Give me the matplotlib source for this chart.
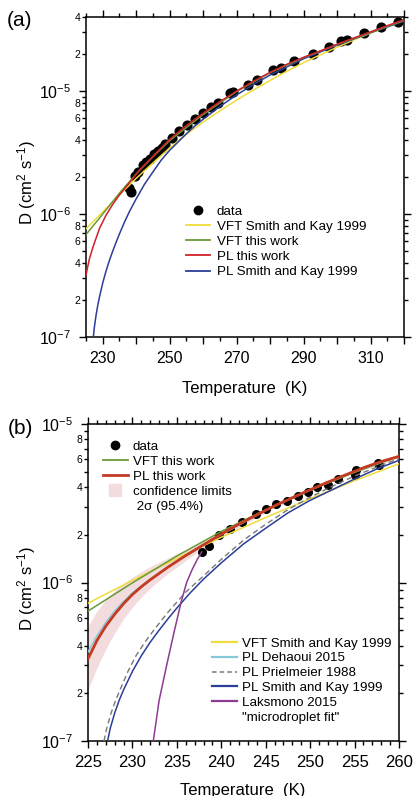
import matplotlib
matplotlib.use('Agg')
import matplotlib.pyplot as plt
from matplotlib.ticker import MultipleLocator, LogLocator, FuncFormatter
from matplotlib.lines import Line2D
import numpy as np

plt.rcParams['font.family'] = ['Liberation Sans', 'DejaVu Sans']
plt.rcParams['mathtext.fontset'] = 'custom'
plt.rcParams['mathtext.rm'] = 'Liberation Sans'
plt.rcParams['mathtext.it'] = 'Liberation Sans:italic'
plt.rcParams['mathtext.default'] = 'regular'

# ---------------- panel (a) data ----------------
T_data_a = [237.9, 238.3, 239.6, 240.5, 241.9, 243.0, 244.1, 245.3, 246.6, 247.6, 248.6, 250.6,
            252.8, 255.1, 257.6, 259.9, 262.2, 264.5, 268.0, 269.0, 273.5, 276.0, 281.0, 283.3,
            287.2, 292.7, 297.7, 301.1, 303.0, 308.1, 313.1, 318.1]
D_data_a = [1.64e-6, 1.5e-6, 2.04e-6, 2.2e-6, 2.49e-6, 2.65e-6, 2.82e-6, 3.05e-6, 3.26e-6, 3.45e-6,
            3.69e-6, 4.19e-6, 4.75e-6, 5.31e-6, 5.98e-6, 6.58e-6, 7.36e-6, 7.98e-6, 9.58e-6, 9.9e-6,
            1.12e-5, 1.24e-5, 1.47e-5, 1.54e-5, 1.75e-5, 2.0e-5, 2.3e-5, 2.56e-5, 2.62e-5, 2.96e-5,
            3.29e-5, 3.66e-5]

T_red_a = [225, 226, 227, 229, 231, 233, 235, 238, 241, 245, 250, 255, 260, 265, 270, 275, 280,
           285, 290, 295, 300, 305, 310, 315, 320]
D_red_a = [3.2e-7, 4.3e-7, 5.3e-7, 7.6e-7, 9.8e-7, 1.2e-6, 1.43e-6, 1.8e-6, 2.28e-6, 2.95e-6,
           4.05e-6, 5.25e-6, 6.6e-6, 8.2e-6, 1.0e-5, 1.2e-5, 1.42e-5, 1.65e-5, 1.88e-5, 2.12e-5,
           2.4e-5, 2.7e-5, 3.03e-5, 3.4e-5, 3.8e-5]

T_green_a = [225, 230, 235, 240, 245, 250, 260, 270, 280, 290, 300, 310, 320]
D_green_a = [6.8e-7, 1.0e-6, 1.48e-6, 2.12e-6, 2.92e-6, 3.95e-6, 6.45e-6, 9.9e-6, 1.41e-5,
             1.87e-5, 2.39e-5, 3.0e-5, 3.75e-5]

T_yellow_a = [225, 230, 235, 240, 245, 250, 255, 260, 265, 270, 275, 280, 285, 290, 295, 300,
              305, 310, 315, 320]
D_yellow_a = [7.6e-7, 1.04e-6, 1.43e-6, 1.95e-6, 2.6e-6, 3.45e-6, 4.45e-6, 5.6e-6, 6.9e-6, 8.45e-6,
              1.02e-5, 1.22e-5, 1.45e-5, 1.7e-5, 1.97e-5, 2.27e-5, 2.6e-5, 2.96e-5, 3.35e-5, 3.75e-5]

T_blue = [227.2, 227.5, 228.0, 228.5, 229.0, 230.0, 231.0, 232.0, 233.0, 234.0, 235.0, 236.5,
          238.0, 240.0, 242.5, 245.0, 247.5, 250.0, 252.5, 255.0, 257.5, 260.0, 265, 270, 275,
          280, 290, 300, 310, 320]
D_blue = [1.0e-7, 1.2e-7, 1.5e-7, 1.8e-7, 2.1e-7, 2.75e-7, 3.45e-7, 4.2e-7, 5.0e-7, 5.9e-7,
          6.9e-7, 8.6e-7, 1.05e-6, 1.33e-6, 1.75e-6, 2.2e-6, 2.75e-6, 3.3e-6, 3.85e-6, 4.5e-6,
          5.2e-6, 5.9e-6, 7.5e-6, 9.3e-6, 1.13e-5, 1.35e-5, 1.83e-5, 2.36e-5, 2.98e-5, 3.7e-5]

# ---------------- panel (b) data ----------------
T_data_b = [237.8, 238.6, 239.7, 241.0, 242.3, 243.9, 245.0, 246.2, 247.4, 248.6, 249.8, 250.8,
            252.0, 253.1, 255.2, 255.0, 257.6, 257.8]
D_data_b = [1.55e-6, 1.71e-6, 1.99e-6, 2.16e-6, 2.41e-6, 2.69e-6, 2.89e-6, 3.11e-6, 3.28e-6,
            3.5e-6, 3.73e-6, 3.99e-6, 4.15e-6, 4.53e-6, 5.11e-6, 4.75e-6, 5.71e-6, 5.5e-6]

T_red_b = [225, 226, 227, 228, 229, 230, 231, 232, 233, 234, 235, 236, 237, 238, 240, 242, 244,
           246, 248, 250, 252, 254, 256, 258, 260]
D_red_b = [3.3e-7, 4.3e-7, 5.3e-7, 6.3e-7, 7.35e-7, 8.4e-7, 9.4e-7, 1.04e-6, 1.14e-6, 1.25e-6,
           1.36e-6, 1.48e-6, 1.6e-6, 1.73e-6, 2.02e-6, 2.34e-6, 2.67e-6, 3.05e-6, 3.43e-6, 3.85e-6,
           4.3e-6, 4.78e-6, 5.3e-6, 5.8e-6, 6.25e-6]

T_band = [225, 226, 227, 228, 229, 230, 231, 232, 233, 234, 235, 236, 237, 238, 240, 245, 250,
          255, 260]
D_band_lo = [2.1e-7, 2.9e-7, 3.8e-7, 4.8e-7, 5.9e-7, 7.0e-7, 8.1e-7, 9.2e-7, 1.03e-6, 1.14e-6,
             1.25e-6, 1.38e-6, 1.51e-6, 1.65e-6, 1.93e-6, 2.77e-6, 3.77e-6, 4.95e-6, 6.1e-6]
D_band_hi = [5.3e-7, 6.6e-7, 7.8e-7, 8.9e-7, 9.9e-7, 1.08e-6, 1.17e-6, 1.26e-6, 1.34e-6, 1.43e-6,
             1.52e-6, 1.6e-6, 1.7e-6, 1.82e-6, 2.1e-6, 2.93e-6, 3.93e-6, 5.15e-6, 6.4e-6]

T_green_b = [225, 230, 235, 240, 245, 250, 255, 260]
D_green_b = [6.6e-7, 9.95e-7, 1.47e-6, 2.1e-6, 2.88e-6, 3.82e-6, 4.95e-6, 6.25e-6]

T_yellow_b = [225, 230, 235, 240, 245, 250, 255, 260]
D_yellow_b = [7.4e-7, 1.03e-6, 1.42e-6, 1.93e-6, 2.57e-6, 3.38e-6, 4.39e-6, 5.61e-6]

T_cyan_b = [225, 226, 227, 228, 229, 230, 232, 234, 236, 238, 240, 245, 250, 255, 260]
D_cyan_b = [3.65e-7, 4.6e-7, 5.6e-7, 6.6e-7, 7.6e-7, 8.6e-7, 1.05e-6, 1.26e-6, 1.48e-6, 1.73e-6,
            2.0e-6, 2.85e-6, 3.85e-6, 5.0e-6, 6.3e-6]

T_gray_b = [226.8, 227.1, 227.6, 228.1, 228.6, 229.5, 230.4, 231.4, 232.4, 233.4, 234.4, 236.0,
            238.0, 240.0, 242.5, 245.0, 247.5, 250.0, 252.5, 255.0, 257.5, 260.0]
D_gray_b = [1.0e-7, 1.2e-7, 1.5e-7, 1.8e-7, 2.1e-7, 2.75e-7, 3.45e-7, 4.2e-7, 5.0e-7, 5.9e-7,
            6.9e-7, 8.7e-7, 1.1e-6, 1.4e-6, 1.85e-6, 2.33e-6, 2.88e-6, 3.45e-6, 4.05e-6, 4.7e-6,
            5.35e-6, 6.05e-6]

T_purple_b = [232.35, 233.0, 233.85, 234.7, 235.5, 236.1, 236.7, 237.3, 237.8]
D_purple_b = [1.0e-7, 1.8e-7, 3.0e-7, 4.9e-7, 7.6e-7, 1.0e-6, 1.2e-6, 1.4e-6, 1.56e-6]

# ---------------- styling ----------------
C_YEL = '#f0dc3a'
C_GRN = '#6a9a35'
C_RED_A = '#d0202a'
C_RED_B = '#c43a22'
C_BLU = '#2b3e98'
C_CYA = '#86cad8'
C_GRY = '#777777'
C_PUR = '#8e3b93'
C_PNK = '#f3dcdd'
LEG_FS = 9.6

fig = plt.figure(figsize=(4.14, 7.96), dpi=100)
axa = fig.add_axes([86/414, 1-337/796, 318/414, 320/796])
axb = fig.add_axes([88/414, 1-741/796, 311/414, 317/796])


def major_fmt(v, pos):
    e = int(round(np.log10(v)))
    return r'$10^{%d}$' % e


def minor_fmt(v, pos):
    e = np.floor(np.log10(v) + 1e-9)
    m = int(round(v / 10**e))
    return str(m) if m in (2, 4, 6, 8) else ''


def style_axes(ax, xlab_size):
    ax.set_yscale('log')
    ax.yaxis.set_major_locator(LogLocator(base=10, numticks=10))
    ax.yaxis.set_minor_locator(LogLocator(base=10, subs=range(2, 10), numticks=20))
    ax.yaxis.set_major_formatter(FuncFormatter(major_fmt))
    ax.yaxis.set_minor_formatter(FuncFormatter(minor_fmt))
    ax.tick_params(which='both', direction='out', top=True, right=True, width=1.0, color='k')
    ax.tick_params(which='major', length=4.8)
    ax.tick_params(which='minor', length=2.8)
    ax.tick_params(axis='y', which='major', labelsize=11.5, pad=6)
    ax.tick_params(axis='y', which='minor', labelsize=7.5, pad=1.5)
    ax.tick_params(axis='x', which='major', labelsize=xlab_size, pad=5)
    for s in ax.spines.values():
        s.set_linewidth(1.1)


# ---------- panel (a) ----------
axa.plot(T_data_a, D_data_a, 'o', color='k', ms=6.3, zorder=2)
axa.plot(T_yellow_a, D_yellow_a, color=C_YEL, lw=1.1, zorder=3)
axa.plot(T_blue, D_blue, color=C_BLU, lw=1.1, zorder=3)
axa.plot(T_green_a, D_green_a, color=C_GRN, lw=1.1, zorder=4)
axa.plot(T_red_a, D_red_a, color=C_RED_A, lw=1.1, zorder=5)
axa.set_xlim(225, 320)
axa.set_ylim(1e-7, 4.0001e-5)
style_axes(axa, 11.5)
axa.xaxis.set_major_locator(MultipleLocator(10))
axa.xaxis.set_minor_locator(MultipleLocator(5))
axa.xaxis.set_major_formatter(FuncFormatter(lambda v, p: '%d' % v if int(round(v)) % 20 == 10 else ''))

h_a = [Line2D([], [], marker='o', color='k', ls='none', ms=6),
       Line2D([], [], color=C_YEL, lw=1.3),
       Line2D([], [], color=C_GRN, lw=1.3),
       Line2D([], [], color=C_RED_A, lw=1.3),
       Line2D([], [], color=C_BLU, lw=1.3)]
l_a = ['data', 'VFT Smith and Kay 1999', 'VFT this work', 'PL this work', 'PL Smith and Kay 1999']
axa.legend(h_a, l_a, loc='upper left', bbox_to_anchor=(0.3145, 0.4115), frameon=False,
           fontsize=LEG_FS, handlelength=1.8, handletextpad=0.52, labelspacing=0.21,
           borderpad=0, borderaxespad=0)

# ---------- panel (b) ----------
axb.fill_between(T_band, D_band_lo, D_band_hi, color=C_PNK, lw=0, zorder=1)
axb.plot(T_data_b, D_data_b, 'o', color='k', ms=5.5, zorder=2)
axb.plot(T_yellow_b, D_yellow_b, color=C_YEL, lw=1.1, zorder=3)
axb.plot(T_green_b, D_green_b, color=C_GRN, lw=1.1, zorder=3)
axb.plot(T_cyan_b, D_cyan_b, color=C_CYA, lw=1.1, zorder=3)
axb.plot(T_gray_b, D_gray_b, color=C_GRY, lw=1.0, ls=(0, (4, 2.5)), zorder=3)
axb.plot(T_blue, D_blue, color=C_BLU, lw=1.1, zorder=3)
axb.plot(T_purple_b, D_purple_b, color=C_PUR, lw=1.1, zorder=3)
axb.plot(T_red_b, D_red_b, color=C_RED_B, lw=2.0, zorder=4)
axb.set_xlim(225, 260)
axb.set_ylim(1e-7, 1.0001e-5)
style_axes(axb, 12)
axb.xaxis.set_major_locator(MultipleLocator(5))
axb.xaxis.set_minor_locator(MultipleLocator(1))
axb.xaxis.set_major_formatter(FuncFormatter(lambda v, p: '%d' % v))

empty = Line2D([], [], color='none')
h_b1 = [Line2D([], [], marker='o', color='k', ls='none', ms=6),
        Line2D([], [], color=C_GRN, lw=1.3),
        Line2D([], [], color=C_RED_B, lw=2.0),
        Line2D([], [], marker='s', color=C_PNK, ls='none', ms=9),
        empty]
l_b1 = ['data', 'VFT this work', 'PL this work', 'confidence limits', ' 2σ (95.4%)']
leg1 = axb.legend(h_b1, l_b1, loc='upper left', bbox_to_anchor=(0.048, 0.949), frameon=False,
                  fontsize=LEG_FS, handlelength=1.875, handletextpad=0.375, labelspacing=0.21,
                  borderpad=0, borderaxespad=0)
axb.add_artist(leg1)

h_b2 = [Line2D([], [], color=C_YEL, lw=1.6),
        Line2D([], [], color=C_CYA, lw=1.6),
        Line2D([], [], color=C_GRY, lw=1.1, ls=(0, (3, 2))),
        Line2D([], [], color=C_BLU, lw=1.6),
        Line2D([], [], color=C_PUR, lw=1.6),
        empty]
l_b2 = ['VFT Smith and Kay 1999', 'PL Dehaoui 2015', 'PL Prielmeier 1988', 'PL Smith and Kay 1999',
        'Laksmono 2015', '"microdroplet fit"']
axb.legend(h_b2, l_b2, loc='upper left', bbox_to_anchor=(0.399, 0.327), frameon=False,
           fontsize=LEG_FS, handlelength=1.875, handletextpad=0.375, labelspacing=0.185,
           borderpad=0, borderaxespad=0)

# ---------- labels ----------
fig.text(20/414, 1-20/796, '(a)', fontsize=15, ha='center', va='center')
fig.text(20/414, 1-428/796, '(b)', fontsize=15, ha='center', va='center')
fig.text(27/414, 1-183/796, 'D (cm$^2$ s$^{-1}$)', fontsize=12, rotation=90, ha='center', va='center')
fig.text(27/414, 1-589/796, 'D (cm$^2$ s$^{-1}$)', fontsize=12, rotation=90, ha='center', va='center')
fig.text(245/414, 1-388/796, 'Temperature  (K)', fontsize=12, ha='center', va='center')
fig.text(243/414, 1-790/796, 'Temperature  (K)', fontsize=12, ha='center', va='center')

fig.savefig('out.png', dpi=100)
